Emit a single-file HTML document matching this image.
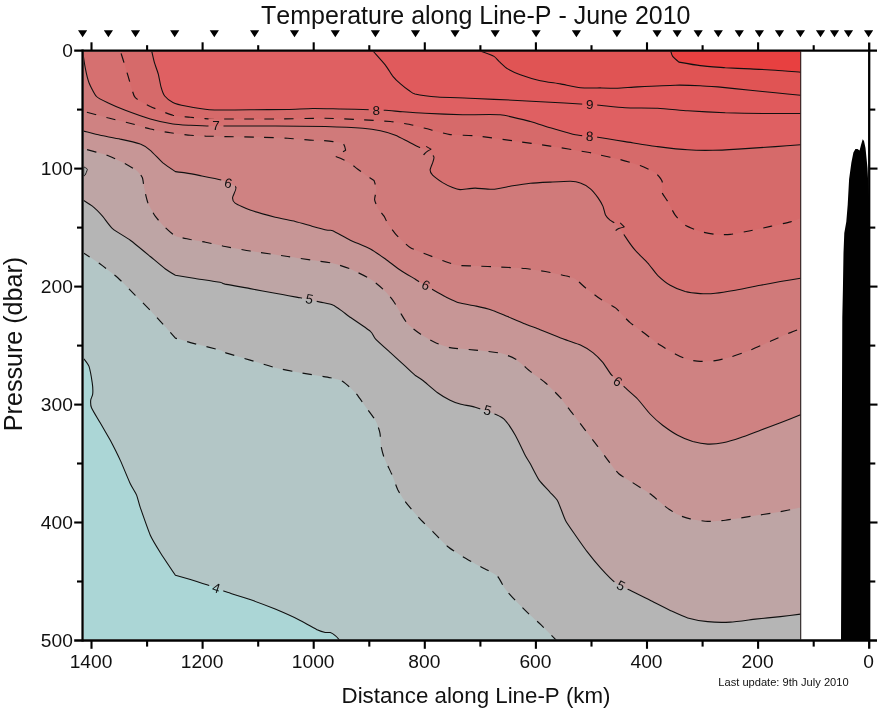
<!DOCTYPE html>
<html><head><meta charset="utf-8"><title>Temperature along Line-P - June 2010</title>
<style>html,body{margin:0;padding:0;background:#fff}body{width:878px;height:708px;overflow:hidden}svg{display:block;will-change:transform;opacity:0.9999}text{font-family:"Liberation Sans",sans-serif;fill:#111;font-kerning:none}</style></head><body>
<svg width="878" height="708" viewBox="0 0 878 708">
<rect width="878" height="708" fill="#fff"/>
<defs><clipPath id="pc"><rect x="83.7" y="51.7" width="717.3" height="587.9"/></clipPath></defs>
<g clip-path="url(#pc)">
<rect x="82.7" y="50.7" width="719.3" height="589.9" fill="#abd6d6"/>
<path d="M83.9 358.9C84.4 359.6 88.1 364 89 366.4C89.8 368.8 91.8 379.9 92.2 382.7C92.6 385.4 92.9 392.2 92.7 394C92.6 395.7 90.8 398.8 90.7 400.2C90.6 401.6 90.5 405.5 91.5 407.7C92.4 410 98.3 419.5 100.2 422.8C102.1 426 108.2 436.6 110.3 440.3C112.3 444.1 118.3 456 120.3 460.4C122.3 464.7 128.7 480.4 130.3 483.8C131.9 487.3 135.6 492.7 136.6 495.1C137.6 497.5 138.9 503.6 140.3 507.6C141.7 511.6 148.3 530.7 150.3 535.2C152.3 539.7 157.9 548.7 160.4 552.7C162.9 556.7 175.4 575.3 175.4 575.3C175.4 575.3 187 578.5 190.4 579.5C193.9 580.6 206.5 584.6 210 585.8C213.4 587 221 590.2 225.1 591.6C229.1 592.9 245.1 597.8 250.1 599.6C255.1 601.3 270.2 607 275.2 609.1C280.2 611.2 296 618.3 300.2 620.4C304.5 622.5 315.3 628.8 317.8 630C320.3 631.2 324 632.2 325.3 632.5C326.5 632.7 329.3 632.2 330.3 632.5C331.3 632.8 334.4 634.9 335.3 635.7C336.3 636.5 339.4 640 339.8 640.5L803 642.6L803 49.7L81.7 49.7L81.7 358.9Z" fill="#b3c6c6"/>
<path d="M83.9 253.2C85.6 254.3 96.8 261.6 100.2 264C103.6 266.5 114.3 274.7 117.8 277.8C121.3 280.9 132.1 292.1 135.3 295.3C138.6 298.6 147.8 307.8 150.3 310.4C152.8 313 157.9 318.5 160.4 321.3C162.9 324.1 175.4 338.1 175.4 338.1C175.4 338.1 186 341.4 190.4 342.6C194.9 343.8 216.5 349.1 220 350.1C223.5 351.1 222 351.6 225.1 352.6C228.1 353.6 245.1 358.6 250.1 360.1C255.1 361.6 270.2 366.4 275.2 367.7C280.2 368.9 294.7 371.7 300.2 372.7C305.7 373.7 326 376.8 330.3 377.7C334.6 378.6 340.3 379.9 342.8 381.4C345.3 382.9 353.1 390.2 355.4 392.7C357.6 395.2 363.4 403.7 365.4 406.5C367.4 409.2 373.9 417.6 375.4 420.3C376.9 422.9 379.4 430.3 379.9 432.8C380.5 435.3 380.5 442.8 380.9 445.3C381.3 447.8 383.1 455 384.2 457.9C385.2 460.7 390.3 470.9 391.7 474.1C393.1 477.4 396.6 487.4 397.9 490.1C399.3 492.8 402.9 498.6 405 501.4C407.1 504.1 416 514.6 418.8 517.7C421.5 520.7 429.7 528.6 432.6 531.4C435.5 534.3 444.6 544 447.6 546.5C450.6 549 459.4 554.5 462.6 556.5C465.9 558.5 477.7 565.1 480.2 566.5C482.7 567.9 485.9 569.3 487.7 570.3C489.5 571.3 496 574.7 497.7 576.5C499.5 578.4 503.5 586.7 505.2 589.1C507 591.4 513 598 515.3 600.3C517.5 602.7 525.2 610.4 527.8 612.9C530.4 615.4 538.7 622.6 541.6 625.4C544.5 628.2 555.1 639 556.6 640.5L803 642.6L803 49.7L81.7 49.7L81.7 253.2Z" fill="#b5b5b5"/>
<path d="M83.2 200.1C84.1 200.7 90.8 204.7 92.7 206.4C94.7 208 100.7 214.1 102.7 216.4C104.7 218.7 110 226.5 112.8 228.9C115.5 231.3 126.5 237.4 130.3 240.2C134.1 243 146.8 253.6 150.3 256.5C153.8 259.4 162.9 267.1 165.4 269C167.9 270.9 175.4 275.3 175.4 275.3C175.4 275.3 191 277.8 195.4 278.5C199.9 279.2 217 281.7 220 282.3C223 282.9 222 283.4 225.1 284.1C228.1 284.7 245.1 287.6 250.1 288.6C255.1 289.5 270.2 292.4 275.2 293.3C280.2 294.3 295.7 297 300.2 297.8C304.7 298.7 317 301.4 320.3 302.1C323.5 302.8 330.5 303.9 332.8 304.9C335.1 305.8 341.2 310.5 342.8 311.6C344.5 312.8 346.3 314.5 349.1 316.5C351.8 318.4 367.8 329.1 370.4 331.3C373 333.6 373.4 336.7 375.4 338.8C377.4 341 387.4 349.9 390.4 352.6C393.4 355.4 403 364.1 405.5 366.4C407.9 368.7 413.3 373.8 415 375.2C416.7 376.5 420.3 378.4 422.6 380.2C424.8 381.9 434.8 390.7 437.6 392.7C440.3 394.7 447.9 399.1 450.1 400.2C452.4 401.4 457.6 403.3 460.1 404C462.6 404.7 471.5 406.2 475.2 407.2C478.8 408.3 493.5 413.5 496.5 414.8C499.5 416.1 503.4 418.2 505.2 420.3C507.1 422.3 513.3 431.8 515.3 435.3C517.3 438.8 523.8 452.5 525.3 455.4C526.8 458.2 528.9 461.3 530.3 463.8C531.7 466.3 537.1 477.2 539.1 480.1C541.1 482.9 548.5 490.5 550.3 492.6C552.2 494.7 556.4 498.6 557.9 501.4C559.4 504.1 563.6 516.8 565.4 520.2C567.1 523.5 573.1 531.9 575.4 535.2C577.7 538.5 585.4 549.5 587.9 552.7C590.4 556 597.7 564.8 600.5 567.8C603.2 570.8 612.5 580.5 615.5 582.8C618.5 585.1 626.6 588.6 630.1 590.3C633.5 592.1 646.1 598.3 650.1 600.3C654.1 602.3 666.4 608.6 670.2 610.4C673.9 612.1 683.9 616.8 687.7 617.9C691.5 619 703.5 621.2 707.7 621.6C712 622.1 725.5 622.4 730.3 622.1C735.1 621.9 750.3 619.7 755.4 619.1C760.4 618.6 775.9 617.1 780.4 616.6C784.9 616.1 798.5 614.4 800.5 614.1L803 49.7L81.7 49.7L81.7 200.1Z" fill="#bea5a5"/>
<path d="M83.9 148.8C86.3 149.5 103.6 154 107.7 155.5C111.9 157 122.4 162.3 125.3 163.8C128.2 165.3 134.9 169.2 136.6 170.5C138.3 171.9 141.6 175.9 142.3 177.6C143.1 179.3 143.5 185.1 144.1 187.6C144.6 190.1 146.7 199.7 147.8 202.6C149 205.5 153.6 213.9 155.4 216.4C157.1 218.9 163.4 225.7 165.4 227.7C167.4 229.6 172.9 234.8 175.4 235.9C177.9 237.1 187.4 238.8 190.4 239.5C193.4 240.1 202.5 241.6 205.5 242.2C208.4 242.8 218 244.8 220 245.2C222 245.6 222 245.9 225.1 246.5C228.1 247 243.8 250 250.1 251C256.4 252 281.4 255.6 287.7 256.5C294 257.4 308.2 259.6 312.8 260.3C317.3 260.9 329 262.4 332.8 263.3C336.6 264.1 346.6 267.4 350.3 269C354.1 270.6 367.1 277 370.4 279C373.6 281 380.7 286.9 382.9 289.1C385.2 291.2 391.2 298 392.9 300.3C394.7 302.7 399 310.5 400.5 312.9C401.9 315.2 405.6 321.7 407.5 323.8C409.5 325.9 417.3 331.9 420 333.8C422.8 335.7 432.1 341.2 435.1 342.6C438.1 344 446.1 346.9 450.1 347.6C454.1 348.4 470.2 349.6 475.2 350.1C480.2 350.7 496.2 352.2 500.2 353.1C504.2 354 512.3 357.1 515.3 358.9C518.3 360.7 527.3 369 530.3 371.4C533.3 373.8 542.3 380.1 545.3 382.7C548.3 385.3 557.6 394.6 560.4 397.7C563.1 400.9 570.4 410.8 572.9 414C575.4 417.3 582.9 427 585.4 430.3C587.9 433.6 595.7 443.6 597.9 446.6C600.2 449.6 605.9 457.6 608 460.4C610.1 463.1 616.3 471.6 618.8 473.8C621.3 476 629.4 480.6 632.6 482.6C635.7 484.6 646.9 491.5 650.1 493.8C653.4 496.2 662.4 504.3 665.1 506.4C667.9 508.5 675.2 513.4 677.7 514.6C680.2 515.9 687.2 518.2 690.2 518.9C693.2 519.6 704.2 521.3 707.7 521.4C711.3 521.5 721 520.7 725.3 520.2C729.5 519.7 745.3 517.2 750.3 516.4C755.4 515.6 770.4 513.5 775.4 512.6C780.4 511.8 797.9 508.1 800.5 507.6L803 49.7L81.7 49.7L81.7 148.8Z" fill="#c79696"/>
<path d="M82.7 130.8C84.4 131.2 96.5 134.5 100.2 135.3C104 136.1 116.3 138.2 120.3 139.1C124.3 139.9 137.3 142.9 140.3 144.1C143.3 145.2 148.1 148.5 150.3 150.3C152.6 152.2 160.4 160.7 162.9 162.9C165.4 165 175.4 171.6 175.4 171.6C175.4 171.6 182.9 172.5 185.4 172.9C187.9 173.3 196.6 174.9 200.2 175.6C203.8 176.3 217.7 178.9 221.3 180.1C224.9 181.2 234.7 185.3 235.8 187.1C237 188.8 232.6 196 232.6 197.6C232.5 199.2 233.3 201.9 235.1 203.1C236.8 204.4 246.1 208.7 250.1 210.1C254.1 211.5 270.7 216 275.2 217.2C279.7 218.3 291.5 220.5 295.2 221.4C299 222.3 309.5 225.5 312.8 226.4C316 227.3 325.8 229.8 327.8 230.2C329.8 230.6 330.5 229.7 332.8 230.7C335.1 231.7 346.6 238.4 350.3 240.2C354.1 242 366.9 247.1 370.4 249C373.9 250.9 382.4 256.9 385.4 259C388.4 261.1 397.5 268.3 400.5 270.3C403.4 272.3 413.2 277.9 415 279C416.8 280.2 416.9 280.4 418.8 281.5C420.7 282.7 431.2 288.8 433.8 290.3C436.5 291.8 442.6 295.3 445.1 296.6C447.6 297.8 455.9 301.9 458.9 302.8C461.9 303.8 471.8 305.1 475.2 305.9C478.6 306.6 489.5 309.3 492.7 310.4C496 311.4 504.5 315.3 507.7 316.6C511 318 522.3 322.9 525.3 324.1C528.3 325.4 534.1 327.3 537.8 328.8C541.6 330.3 558.6 337.2 562.9 338.8C567.1 340.5 577.4 343.7 580.4 345.1C583.4 346.5 590.7 350.9 592.9 352.6C595.2 354.4 601.1 360.4 603 362.6C604.8 364.9 609.5 372.7 611.7 375.2C613.9 377.7 622.5 385.3 625.1 387.7C627.6 390.1 635.1 396.3 637.6 399C640.1 401.6 647.6 411.4 650.1 414C652.6 416.6 659.9 423.2 662.6 425.3C665.4 427.4 674.7 433.7 677.7 435.3C680.7 436.9 689.7 440.7 692.7 441.6C695.7 442.4 704.7 444 707.7 444.1C710.8 444.2 719.5 443.5 722.8 442.8C726 442.2 736.6 439.1 740.3 437.8C744.1 436.6 756.4 431.8 760.4 430.3C764.4 428.8 776.4 424.3 780.4 422.8C784.4 421.2 798.5 415.6 800.5 414.8L803 49.7L81.7 49.7L81.7 130.8Z" fill="#cf8282"/>
<path d="M83.9 111.5C86.3 112.1 102.9 116.5 107.7 117.8C112.6 119 128.5 122.9 132.8 124C137.1 125.2 146.6 128.2 150.3 129C154.1 129.9 166.4 132.2 170.4 132.8C174.4 133.4 186.9 135 190.4 135.3C193.9 135.6 202 135.9 205.5 136.1C208.9 136.2 219.3 136.4 225.1 136.6C230.8 136.7 256.4 137.1 262.6 137.3C268.9 137.5 282.7 138 287.7 138.3C292.7 138.6 309.3 140.1 312.8 140.3C316.2 140.5 320 140.4 322 140.5C324 140.6 330.9 141.3 333 141.6C335.1 141.9 342 142.8 343.3 143.7C344.6 144.6 345.6 150.2 345.6 150.2C345.6 150.2 334.7 156.2 334.7 156.2C334.7 156.2 340.4 158.2 340.4 158.2C340.4 158.2 348.4 162.2 350.1 163.3C351.8 164.4 355.9 167.8 357.5 169C359.1 170.2 364.4 174.1 366 175.2C367.6 176.3 374 180.4 374 180.4C374 180.4 375.5 185 375.7 186C375.9 187 376.4 189.2 376.3 190.6C376.2 192 374.4 197.9 374.6 199.7C374.8 201.5 377.4 207.2 378.4 208.9C379.4 210.6 383.2 214.9 384.2 216.4C385.1 217.9 386.8 222.2 387.9 223.9C389.1 225.7 394.1 232.3 395.4 233.9C396.8 235.6 400.2 238.8 401.7 240.2C403.2 241.6 407.9 246.3 410.5 247.7C413.1 249.2 424.1 253.4 427.6 254.7C431 256.1 442.1 260.5 445.1 261.5C448.1 262.6 454.6 264.8 457.6 265.3C460.6 265.7 470.9 265.8 475.2 266C479.4 266.2 495.2 266.8 500.2 267C505.2 267.3 520.8 268.1 525.3 268.5C529.8 269 541.3 270.8 545.3 271.5C549.3 272.3 562.4 275 565.4 275.8C568.4 276.5 573.4 277.8 575.4 279C577.4 280.2 582.9 285.8 585.4 287.8C587.9 289.8 597.4 297.1 600.5 299.1C603.5 301.1 613.3 306.3 615.5 307.9C617.7 309.5 621.1 313.6 622.6 315C624 316.5 627.8 320.7 630.1 322.6C632.3 324.4 642.1 331.6 645.1 333.8C648.1 336.1 657.1 343.1 660.1 345.1C663.1 347.1 672.4 352.4 675.2 353.9C677.9 355.3 685.2 358.9 687.7 359.6C690.2 360.4 697.5 361.3 700.2 361.4C703 361.5 712.3 361.1 715.3 360.6C718.3 360.2 726.8 358.2 730.3 357.1C733.8 356.1 746.3 351.7 750.3 350.1C754.4 348.5 766.4 343.1 770.4 341.3C774.4 339.6 787.4 333.8 790.4 332.6C793.4 331.3 799.5 329.2 800.5 328.8L803 49.7L81.7 49.7L81.7 111.5Z" fill="#d07a7a"/>
<path d="M82.7 50.9C82.9 52.5 84.6 64.5 85.2 67.7C85.8 70.8 87.8 79.8 89 82.7C90.1 85.6 94.6 94.5 96.5 96.5C98.3 98.5 104.9 101.4 107.7 102.7C110.6 104.1 121 108.6 125.3 110.3C129.5 111.9 145.6 117.6 150.3 119C155.1 120.4 168.9 123.4 172.9 124C176.9 124.7 186.7 125.1 190.4 125.3C194.2 125.5 207 126 210.5 126C213.9 126.1 218.6 126 225.1 126C231.5 126 265.1 126 275.2 126C285.2 126.1 316.5 126.3 325.3 126.5C334.1 126.8 357.4 127.9 362.9 128.3C368.4 128.7 377.2 130.1 380.4 130.8C383.7 131.5 392.7 134.2 395.4 135.3C398.2 136.4 406 140.6 408 141.6C409.9 142.6 413.3 144.5 415 145.3C416.7 146.2 423.2 148.7 425.1 149.8C426.9 151 433.1 155.3 433.8 156.6C434.6 157.9 432.9 161.5 432.6 162.9C432.2 164.2 430.1 168.8 430.1 170C430.1 171.3 431.3 173.8 432.6 175.1C433.8 176.3 440.6 181.3 442.6 182.6C444.6 183.8 450.9 186.9 452.6 187.6C454.4 188.3 457.9 189.5 460.1 189.6C462.4 189.6 471.9 188.1 475.2 188.1C478.4 188.1 489 189.6 492.7 189.3C496.5 189.1 509 186.4 512.8 185.8C516.5 185.2 526.5 183.7 530.3 183.3C534.1 182.9 546.3 182.3 550.3 182.1C554.4 181.9 567.4 181.2 570.4 181.3C573.4 181.4 578.4 182.3 580.4 183.1C582.4 183.8 588.7 187.4 590.4 188.8C592.2 190.3 596.7 195.9 597.9 197.6C599.2 199.4 602.2 204.6 603 206.4C603.7 208.1 604.8 213.8 605.5 215.1C606.2 216.5 608.8 219.2 610 220.2C611.2 221.2 616 223.5 617.5 225.2C619 226.8 623.3 233.9 625.1 236.4C626.8 239 632.8 247.6 635.1 250.2C637.3 252.9 645.4 260.3 647.6 262.8C649.9 265.3 655.4 273 657.6 275.3C659.9 277.5 667.4 283.7 670.2 285.3C672.9 286.9 682.2 290.7 685.2 291.6C688.2 292.4 697.2 293.4 700.2 293.6C703.2 293.8 711.8 293.7 715.3 293.3C718.8 293 730.8 291.1 735.3 290.3C739.8 289.5 755.9 286.2 760.4 285.3C764.9 284.4 776.4 282.3 780.4 281.5C784.4 280.8 798.5 278.6 800.5 278.3L803 49.7L81.7 49.7L81.7 50.9Z" fill="#d67070"/>
<path d="M120.3 50.9C120.6 52 123.3 60.2 124 62.6C124.8 65.1 127 72.7 127.8 75.2C128.5 77.7 130.8 85.4 131.5 87.7C132.3 90 133.4 95.8 135.3 97.7C137.2 99.6 146.6 104.7 150.3 106.5C154.1 108.2 168.9 114.2 172.9 115.3C176.9 116.3 185.7 116.8 190.4 117.3C195.1 117.7 216.5 119.6 220 119.8C223.5 119.9 219.5 119.1 225.1 119C230.6 118.9 265.1 119.1 275.2 119C285.2 118.9 316.5 118.2 325.3 118.3C334.1 118.3 356.4 119.4 362.9 119.8C369.4 120.1 385.8 121.1 390.4 121.5C395 122 405.5 123.6 409 124.3C412.5 125 420.9 127.3 425.1 128.3C429.2 129.3 445.1 133.8 450.1 134.6C455.1 135.3 468.9 135.2 475.2 135.8C481.4 136.4 505.2 139.8 512.8 140.8C520.3 141.8 542.8 144.9 550.3 146.1C557.9 147.2 583 151.5 587.9 152.3C592.9 153.2 596.8 154.3 600 155C603.2 155.7 616 158.5 620 159.5C624.1 160.6 636.6 164.2 640.1 165.5C643.6 166.8 652.9 171 655.1 172.6C657.3 174.1 661.4 179.3 662.1 181.3C662.8 183.3 661.6 190.6 662.1 192.6C662.7 194.6 666.4 199.1 667.7 201.4C669 203.6 673.4 212.8 675.2 215.1C676.9 217.5 682.7 223.5 685.2 225.2C687.7 226.8 697.2 230.5 700.2 231.4C703.2 232.4 712.3 234.1 715.3 234.4C718.3 234.7 726.8 234.8 730.3 234.4C733.8 234.1 746.3 231.5 750.3 230.7C754.4 229.9 766.4 227.3 770.4 226.4C774.4 225.5 787.4 222.7 790.4 221.9C793.4 221.1 799.5 218.5 800.5 218.2L803 49.7L81.7 49.7Z" fill="#d66a6a"/>
<path d="M151.7 51C152 52.2 153.9 60.9 154.6 63.2C155.3 65.5 157.7 71.7 158.3 74.1C158.9 76.5 160.4 84.7 161 86.9C161.6 89.1 163.5 94.5 164.7 96C165.9 97.5 170.8 101.4 172.9 102.4C175 103.4 182 105.3 185.6 106C189.2 106.7 202.8 109.3 209.3 109.7C215.8 110.1 242.3 109.8 250.1 109.7C258 109.7 281.4 109.6 287.7 109.5C294 109.4 307.5 108.5 312.8 108.5C318 108.4 334.6 108.9 340.3 109C346.1 109.1 365.9 109.6 370.4 109.7C374.9 109.9 382.2 110.1 385.4 110.3C388.7 110.5 398.8 111.5 402.7 111.8C406.7 112.1 419.1 113 425.1 113.3C431 113.6 455.1 114.6 462.6 114.8C470.2 114.9 493.5 114.1 500.2 114.8C507 115.4 525.3 120.2 530.3 121.5C535.3 122.8 545.8 126.5 550.3 127.8C554.9 129.1 570.6 133.9 575.4 134.8C580.2 135.8 593 136.6 597.9 137.3C602.9 138 619.1 140.6 625.1 141.6C631 142.5 651.4 145.8 657.6 146.6C663.9 147.4 682.2 149.5 687.7 149.8C693.2 150.2 707.7 150.4 712.8 150.3C717.8 150.3 731.5 149.5 737.8 149.1C744.1 148.7 769.1 147 775.4 146.6C781.7 146.2 797.9 145 800.5 144.8L803 49.7L81.7 49.7Z" fill="#df6062"/>
<path d="M372.9 50.9C374.1 52.3 383.4 62.6 385.4 65.1C387.4 67.7 391.4 74.5 392.9 76.4C394.4 78.3 398.8 82.5 400.5 83.9C402.1 85.3 407.5 89.5 409 90.5C410.5 91.5 412.2 93.3 415 94C417.9 94.6 431.6 96.5 437.6 97C443.6 97.4 467.7 98.1 475.2 98.5C482.7 98.8 505.2 99.9 512.8 100.2C520.3 100.6 543.6 101.9 550.3 102.2C557.1 102.6 575.5 103.7 580.4 104C585.3 104.3 594.7 104.9 599.2 105.2C603.7 105.6 619.2 107.4 625.1 107.7C630.9 108 651.4 107.9 657.6 108.2C663.9 108.5 680.9 110.3 687.7 110.8C694.5 111.2 717.8 112.5 725.3 112.8C732.8 113 755.4 113.4 762.9 113.5C770.4 113.6 796.7 113.5 800.5 113.5L803 49.7L81.7 49.7Z" fill="#e05a5c"/>
<path d="M480.2 50.9C481.6 51.4 492.1 55.3 494 56.4C495.8 57.4 497.6 60.1 499 61.4C500.4 62.6 505.6 67.6 507.7 68.9C509.9 70.2 517 73.5 520.3 74.7C523.5 75.8 536.3 79.8 540.3 80.7C544.3 81.6 556.4 83.2 560.4 83.9C564.4 84.6 576.4 87.3 580.4 87.7C584.4 88.1 596.5 87.9 600.2 87.9C603.9 88 613.8 88.3 617.5 88.2C621.3 88.1 631.8 87.2 637.6 86.9C643.3 86.6 668.9 85.3 675.2 85.2C681.4 85.1 696 85.5 700.2 85.7C704.5 85.9 717.8 86.9 717.8 86.9C717.8 86.9 744.6 89.6 750.3 90.2C756.1 90.8 770.4 92.2 775.4 92.7C780.4 93.2 797.9 95 800.5 95.2L803 49.7L81.7 49.7Z" fill="#e05454"/>
<path d="M670.7 50.9C670.9 51.4 671.8 55.3 672.7 56.4C673.5 57.5 678.9 62.1 678.9 62.1C678.9 62.1 695.6 65.1 700.2 65.6C704.9 66.2 720.3 67.3 725.3 67.7C730.3 68 745.3 68.7 750.3 68.9C755.4 69.2 770.4 69.8 775.4 70.2C780.4 70.5 797.9 72 800.5 72.2L803 49.7L81.7 49.7Z" fill="#e84040"/>
<path d="M83.7 166.9C84.1 167.1 87.2 168.4 87.3 169.2C87.4 170 85.5 174.4 85.1 175.1C84.7 175.8 83.8 175.9 83.7 176Z" fill="#b5b5b5" stroke="#111" stroke-width="0.9"/>
</g>
<defs><mask id="lm" maskUnits="userSpaceOnUse" x="0" y="0" width="878" height="708"><rect width="878" height="708" fill="#fff"/>
<rect x="208.8" y="581" width="15" height="14" fill="#000" transform="rotate(18 216.3 588)"/>
<rect x="302" y="292" width="15" height="14" fill="#000" transform="rotate(12 309.5 299)"/>
<rect x="480.2" y="403.3" width="15" height="14" fill="#000" transform="rotate(15 487.7 410.3)"/>
<rect x="613.5" y="578.5" width="15" height="14" fill="#000" transform="rotate(27 621 585.5)"/>
<rect x="220.8" y="176" width="15" height="14" fill="#000" transform="rotate(14 228.3 183)"/>
<rect x="418.3" y="278" width="15" height="14" fill="#000" transform="rotate(25 425.8 285)"/>
<rect x="610.3" y="374.5" width="15" height="14" fill="#000" transform="rotate(36 617.8 381.5)"/>
<rect x="208.5" y="118.3" width="15" height="14" fill="#000" transform="rotate(0 216 125.3)"/>
<rect x="419.1" y="144.3" width="15" height="14" fill="#000" transform="rotate(31 426.6 151.3)"/>
<rect x="612.1" y="220.9" width="15" height="14" fill="#000" transform="rotate(45 619.6 227.9)"/>
<rect x="368.7" y="102.8" width="15" height="14" fill="#000" transform="rotate(0 376.2 109.8)"/>
<rect x="582.2" y="129.1" width="15" height="14" fill="#000" transform="rotate(2 589.7 136.1)"/>
<rect x="582.2" y="97" width="15" height="14" fill="#000" transform="rotate(0 589.7 104)"/>
</mask></defs>
<g clip-path="url(#pc)"><g mask="url(#lm)" fill="none" stroke="#101010" stroke-linejoin="round">
<path d="M83.9 358.9C84.4 359.6 88.1 364 89 366.4C89.8 368.8 91.8 379.9 92.2 382.7C92.6 385.4 92.9 392.2 92.7 394C92.6 395.7 90.8 398.8 90.7 400.2C90.6 401.6 90.5 405.5 91.5 407.7C92.4 410 98.3 419.5 100.2 422.8C102.1 426 108.2 436.6 110.3 440.3C112.3 444.1 118.3 456 120.3 460.4C122.3 464.7 128.7 480.4 130.3 483.8C131.9 487.3 135.6 492.7 136.6 495.1C137.6 497.5 138.9 503.6 140.3 507.6C141.7 511.6 148.3 530.7 150.3 535.2C152.3 539.7 157.9 548.7 160.4 552.7C162.9 556.7 175.4 575.3 175.4 575.3C175.4 575.3 187 578.5 190.4 579.5C193.9 580.6 206.5 584.6 210 585.8C213.4 587 221 590.2 225.1 591.6C229.1 592.9 245.1 597.8 250.1 599.6C255.1 601.3 270.2 607 275.2 609.1C280.2 611.2 296 618.3 300.2 620.4C304.5 622.5 315.3 628.8 317.8 630C320.3 631.2 324 632.2 325.3 632.5C326.5 632.7 329.3 632.2 330.3 632.5C331.3 632.8 334.4 634.9 335.3 635.7C336.3 636.5 339.4 640 339.8 640.5" stroke-width="1.08"/>
<path d="M83.9 253.2C85.6 254.3 96.8 261.6 100.2 264C103.6 266.5 114.3 274.7 117.8 277.8C121.3 280.9 132.1 292.1 135.3 295.3C138.6 298.6 147.8 307.8 150.3 310.4C152.8 313 157.9 318.5 160.4 321.3C162.9 324.1 175.4 338.1 175.4 338.1C175.4 338.1 186 341.4 190.4 342.6C194.9 343.8 216.5 349.1 220 350.1C223.5 351.1 222 351.6 225.1 352.6C228.1 353.6 245.1 358.6 250.1 360.1C255.1 361.6 270.2 366.4 275.2 367.7C280.2 368.9 294.7 371.7 300.2 372.7C305.7 373.7 326 376.8 330.3 377.7C334.6 378.6 340.3 379.9 342.8 381.4C345.3 382.9 353.1 390.2 355.4 392.7C357.6 395.2 363.4 403.7 365.4 406.5C367.4 409.2 373.9 417.6 375.4 420.3C376.9 422.9 379.4 430.3 379.9 432.8C380.5 435.3 380.5 442.8 380.9 445.3C381.3 447.8 383.1 455 384.2 457.9C385.2 460.7 390.3 470.9 391.7 474.1C393.1 477.4 396.6 487.4 397.9 490.1C399.3 492.8 402.9 498.6 405 501.4C407.1 504.1 416 514.6 418.8 517.7C421.5 520.7 429.7 528.6 432.6 531.4C435.5 534.3 444.6 544 447.6 546.5C450.6 549 459.4 554.5 462.6 556.5C465.9 558.5 477.7 565.1 480.2 566.5C482.7 567.9 485.9 569.3 487.7 570.3C489.5 571.3 496 574.7 497.7 576.5C499.5 578.4 503.5 586.7 505.2 589.1C507 591.4 513 598 515.3 600.3C517.5 602.7 525.2 610.4 527.8 612.9C530.4 615.4 538.7 622.6 541.6 625.4C544.5 628.2 555.1 639 556.6 640.5" stroke-width="1.15" stroke-dasharray="9.5 10.5" stroke-dashoffset="2.5"/>
<path d="M83.2 200.1C84.1 200.7 90.8 204.7 92.7 206.4C94.7 208 100.7 214.1 102.7 216.4C104.7 218.7 110 226.5 112.8 228.9C115.5 231.3 126.5 237.4 130.3 240.2C134.1 243 146.8 253.6 150.3 256.5C153.8 259.4 162.9 267.1 165.4 269C167.9 270.9 175.4 275.3 175.4 275.3C175.4 275.3 191 277.8 195.4 278.5C199.9 279.2 217 281.7 220 282.3C223 282.9 222 283.4 225.1 284.1C228.1 284.7 245.1 287.6 250.1 288.6C255.1 289.5 270.2 292.4 275.2 293.3C280.2 294.3 295.7 297 300.2 297.8C304.7 298.7 317 301.4 320.3 302.1C323.5 302.8 330.5 303.9 332.8 304.9C335.1 305.8 341.2 310.5 342.8 311.6C344.5 312.8 346.3 314.5 349.1 316.5C351.8 318.4 367.8 329.1 370.4 331.3C373 333.6 373.4 336.7 375.4 338.8C377.4 341 387.4 349.9 390.4 352.6C393.4 355.4 403 364.1 405.5 366.4C407.9 368.7 413.3 373.8 415 375.2C416.7 376.5 420.3 378.4 422.6 380.2C424.8 381.9 434.8 390.7 437.6 392.7C440.3 394.7 447.9 399.1 450.1 400.2C452.4 401.4 457.6 403.3 460.1 404C462.6 404.7 471.5 406.2 475.2 407.2C478.8 408.3 493.5 413.5 496.5 414.8C499.5 416.1 503.4 418.2 505.2 420.3C507.1 422.3 513.3 431.8 515.3 435.3C517.3 438.8 523.8 452.5 525.3 455.4C526.8 458.2 528.9 461.3 530.3 463.8C531.7 466.3 537.1 477.2 539.1 480.1C541.1 482.9 548.5 490.5 550.3 492.6C552.2 494.7 556.4 498.6 557.9 501.4C559.4 504.1 563.6 516.8 565.4 520.2C567.1 523.5 573.1 531.9 575.4 535.2C577.7 538.5 585.4 549.5 587.9 552.7C590.4 556 597.7 564.8 600.5 567.8C603.2 570.8 612.5 580.5 615.5 582.8C618.5 585.1 626.6 588.6 630.1 590.3C633.5 592.1 646.1 598.3 650.1 600.3C654.1 602.3 666.4 608.6 670.2 610.4C673.9 612.1 683.9 616.8 687.7 617.9C691.5 619 703.5 621.2 707.7 621.6C712 622.1 725.5 622.4 730.3 622.1C735.1 621.9 750.3 619.7 755.4 619.1C760.4 618.6 775.9 617.1 780.4 616.6C784.9 616.1 798.5 614.4 800.5 614.1" stroke-width="1.08"/>
<path d="M83.9 148.8C86.3 149.5 103.6 154 107.7 155.5C111.9 157 122.4 162.3 125.3 163.8C128.2 165.3 134.9 169.2 136.6 170.5C138.3 171.9 141.6 175.9 142.3 177.6C143.1 179.3 143.5 185.1 144.1 187.6C144.6 190.1 146.7 199.7 147.8 202.6C149 205.5 153.6 213.9 155.4 216.4C157.1 218.9 163.4 225.7 165.4 227.7C167.4 229.6 172.9 234.8 175.4 235.9C177.9 237.1 187.4 238.8 190.4 239.5C193.4 240.1 202.5 241.6 205.5 242.2C208.4 242.8 218 244.8 220 245.2C222 245.6 222 245.9 225.1 246.5C228.1 247 243.8 250 250.1 251C256.4 252 281.4 255.6 287.7 256.5C294 257.4 308.2 259.6 312.8 260.3C317.3 260.9 329 262.4 332.8 263.3C336.6 264.1 346.6 267.4 350.3 269C354.1 270.6 367.1 277 370.4 279C373.6 281 380.7 286.9 382.9 289.1C385.2 291.2 391.2 298 392.9 300.3C394.7 302.7 399 310.5 400.5 312.9C401.9 315.2 405.6 321.7 407.5 323.8C409.5 325.9 417.3 331.9 420 333.8C422.8 335.7 432.1 341.2 435.1 342.6C438.1 344 446.1 346.9 450.1 347.6C454.1 348.4 470.2 349.6 475.2 350.1C480.2 350.7 496.2 352.2 500.2 353.1C504.2 354 512.3 357.1 515.3 358.9C518.3 360.7 527.3 369 530.3 371.4C533.3 373.8 542.3 380.1 545.3 382.7C548.3 385.3 557.6 394.6 560.4 397.7C563.1 400.9 570.4 410.8 572.9 414C575.4 417.3 582.9 427 585.4 430.3C587.9 433.6 595.7 443.6 597.9 446.6C600.2 449.6 605.9 457.6 608 460.4C610.1 463.1 616.3 471.6 618.8 473.8C621.3 476 629.4 480.6 632.6 482.6C635.7 484.6 646.9 491.5 650.1 493.8C653.4 496.2 662.4 504.3 665.1 506.4C667.9 508.5 675.2 513.4 677.7 514.6C680.2 515.9 687.2 518.2 690.2 518.9C693.2 519.6 704.2 521.3 707.7 521.4C711.3 521.5 721 520.7 725.3 520.2C729.5 519.7 745.3 517.2 750.3 516.4C755.4 515.6 770.4 513.5 775.4 512.6C780.4 511.8 797.9 508.1 800.5 507.6" stroke-width="1.15" stroke-dasharray="9.5 10.5" stroke-dashoffset="16.6"/>
<path d="M82.7 130.8C84.4 131.2 96.5 134.5 100.2 135.3C104 136.1 116.3 138.2 120.3 139.1C124.3 139.9 137.3 142.9 140.3 144.1C143.3 145.2 148.1 148.5 150.3 150.3C152.6 152.2 160.4 160.7 162.9 162.9C165.4 165 175.4 171.6 175.4 171.6C175.4 171.6 182.9 172.5 185.4 172.9C187.9 173.3 196.6 174.9 200.2 175.6C203.8 176.3 217.7 178.9 221.3 180.1C224.9 181.2 234.7 185.3 235.8 187.1C237 188.8 232.6 196 232.6 197.6C232.5 199.2 233.3 201.9 235.1 203.1C236.8 204.4 246.1 208.7 250.1 210.1C254.1 211.5 270.7 216 275.2 217.2C279.7 218.3 291.5 220.5 295.2 221.4C299 222.3 309.5 225.5 312.8 226.4C316 227.3 325.8 229.8 327.8 230.2C329.8 230.6 330.5 229.7 332.8 230.7C335.1 231.7 346.6 238.4 350.3 240.2C354.1 242 366.9 247.1 370.4 249C373.9 250.9 382.4 256.9 385.4 259C388.4 261.1 397.5 268.3 400.5 270.3C403.4 272.3 413.2 277.9 415 279C416.8 280.2 416.9 280.4 418.8 281.5C420.7 282.7 431.2 288.8 433.8 290.3C436.5 291.8 442.6 295.3 445.1 296.6C447.6 297.8 455.9 301.9 458.9 302.8C461.9 303.8 471.8 305.1 475.2 305.9C478.6 306.6 489.5 309.3 492.7 310.4C496 311.4 504.5 315.3 507.7 316.6C511 318 522.3 322.9 525.3 324.1C528.3 325.4 534.1 327.3 537.8 328.8C541.6 330.3 558.6 337.2 562.9 338.8C567.1 340.5 577.4 343.7 580.4 345.1C583.4 346.5 590.7 350.9 592.9 352.6C595.2 354.4 601.1 360.4 603 362.6C604.8 364.9 609.5 372.7 611.7 375.2C613.9 377.7 622.5 385.3 625.1 387.7C627.6 390.1 635.1 396.3 637.6 399C640.1 401.6 647.6 411.4 650.1 414C652.6 416.6 659.9 423.2 662.6 425.3C665.4 427.4 674.7 433.7 677.7 435.3C680.7 436.9 689.7 440.7 692.7 441.6C695.7 442.4 704.7 444 707.7 444.1C710.8 444.2 719.5 443.5 722.8 442.8C726 442.2 736.6 439.1 740.3 437.8C744.1 436.6 756.4 431.8 760.4 430.3C764.4 428.8 776.4 424.3 780.4 422.8C784.4 421.2 798.5 415.6 800.5 414.8" stroke-width="1.08"/>
<path d="M83.9 111.5C86.3 112.1 102.9 116.5 107.7 117.8C112.6 119 128.5 122.9 132.8 124C137.1 125.2 146.6 128.2 150.3 129C154.1 129.9 166.4 132.2 170.4 132.8C174.4 133.4 186.9 135 190.4 135.3C193.9 135.6 202 135.9 205.5 136.1C208.9 136.2 219.3 136.4 225.1 136.6C230.8 136.7 256.4 137.1 262.6 137.3C268.9 137.5 282.7 138 287.7 138.3C292.7 138.6 309.3 140.1 312.8 140.3C316.2 140.5 320 140.4 322 140.5C324 140.6 330.9 141.3 333 141.6C335.1 141.9 342 142.8 343.3 143.7C344.6 144.6 345.6 150.2 345.6 150.2C345.6 150.2 334.7 156.2 334.7 156.2C334.7 156.2 340.4 158.2 340.4 158.2C340.4 158.2 348.4 162.2 350.1 163.3C351.8 164.4 355.9 167.8 357.5 169C359.1 170.2 364.4 174.1 366 175.2C367.6 176.3 374 180.4 374 180.4C374 180.4 375.5 185 375.7 186C375.9 187 376.4 189.2 376.3 190.6C376.2 192 374.4 197.9 374.6 199.7C374.8 201.5 377.4 207.2 378.4 208.9C379.4 210.6 383.2 214.9 384.2 216.4C385.1 217.9 386.8 222.2 387.9 223.9C389.1 225.7 394.1 232.3 395.4 233.9C396.8 235.6 400.2 238.8 401.7 240.2C403.2 241.6 407.9 246.3 410.5 247.7C413.1 249.2 424.1 253.4 427.6 254.7C431 256.1 442.1 260.5 445.1 261.5C448.1 262.6 454.6 264.8 457.6 265.3C460.6 265.7 470.9 265.8 475.2 266C479.4 266.2 495.2 266.8 500.2 267C505.2 267.3 520.8 268.1 525.3 268.5C529.8 269 541.3 270.8 545.3 271.5C549.3 272.3 562.4 275 565.4 275.8C568.4 276.5 573.4 277.8 575.4 279C577.4 280.2 582.9 285.8 585.4 287.8C587.9 289.8 597.4 297.1 600.5 299.1C603.5 301.1 613.3 306.3 615.5 307.9C617.7 309.5 621.1 313.6 622.6 315C624 316.5 627.8 320.7 630.1 322.6C632.3 324.4 642.1 331.6 645.1 333.8C648.1 336.1 657.1 343.1 660.1 345.1C663.1 347.1 672.4 352.4 675.2 353.9C677.9 355.3 685.2 358.9 687.7 359.6C690.2 360.4 697.5 361.3 700.2 361.4C703 361.5 712.3 361.1 715.3 360.6C718.3 360.2 726.8 358.2 730.3 357.1C733.8 356.1 746.3 351.7 750.3 350.1C754.4 348.5 766.4 343.1 770.4 341.3C774.4 339.6 787.4 333.8 790.4 332.6C793.4 331.3 799.5 329.2 800.5 328.8" stroke-width="1.15" stroke-dasharray="9.5 10.5" stroke-dashoffset="16.8"/>
<path d="M82.7 50.9C82.9 52.5 84.6 64.5 85.2 67.7C85.8 70.8 87.8 79.8 89 82.7C90.1 85.6 94.6 94.5 96.5 96.5C98.3 98.5 104.9 101.4 107.7 102.7C110.6 104.1 121 108.6 125.3 110.3C129.5 111.9 145.6 117.6 150.3 119C155.1 120.4 168.9 123.4 172.9 124C176.9 124.7 186.7 125.1 190.4 125.3C194.2 125.5 207 126 210.5 126C213.9 126.1 218.6 126 225.1 126C231.5 126 265.1 126 275.2 126C285.2 126.1 316.5 126.3 325.3 126.5C334.1 126.8 357.4 127.9 362.9 128.3C368.4 128.7 377.2 130.1 380.4 130.8C383.7 131.5 392.7 134.2 395.4 135.3C398.2 136.4 406 140.6 408 141.6C409.9 142.6 413.3 144.5 415 145.3C416.7 146.2 423.2 148.7 425.1 149.8C426.9 151 433.1 155.3 433.8 156.6C434.6 157.9 432.9 161.5 432.6 162.9C432.2 164.2 430.1 168.8 430.1 170C430.1 171.3 431.3 173.8 432.6 175.1C433.8 176.3 440.6 181.3 442.6 182.6C444.6 183.8 450.9 186.9 452.6 187.6C454.4 188.3 457.9 189.5 460.1 189.6C462.4 189.6 471.9 188.1 475.2 188.1C478.4 188.1 489 189.6 492.7 189.3C496.5 189.1 509 186.4 512.8 185.8C516.5 185.2 526.5 183.7 530.3 183.3C534.1 182.9 546.3 182.3 550.3 182.1C554.4 181.9 567.4 181.2 570.4 181.3C573.4 181.4 578.4 182.3 580.4 183.1C582.4 183.8 588.7 187.4 590.4 188.8C592.2 190.3 596.7 195.9 597.9 197.6C599.2 199.4 602.2 204.6 603 206.4C603.7 208.1 604.8 213.8 605.5 215.1C606.2 216.5 608.8 219.2 610 220.2C611.2 221.2 616 223.5 617.5 225.2C619 226.8 623.3 233.9 625.1 236.4C626.8 239 632.8 247.6 635.1 250.2C637.3 252.9 645.4 260.3 647.6 262.8C649.9 265.3 655.4 273 657.6 275.3C659.9 277.5 667.4 283.7 670.2 285.3C672.9 286.9 682.2 290.7 685.2 291.6C688.2 292.4 697.2 293.4 700.2 293.6C703.2 293.8 711.8 293.7 715.3 293.3C718.8 293 730.8 291.1 735.3 290.3C739.8 289.5 755.9 286.2 760.4 285.3C764.9 284.4 776.4 282.3 780.4 281.5C784.4 280.8 798.5 278.6 800.5 278.3" stroke-width="1.08"/>
<path d="M120.3 50.9C120.6 52 123.3 60.2 124 62.6C124.8 65.1 127 72.7 127.8 75.2C128.5 77.7 130.8 85.4 131.5 87.7C132.3 90 133.4 95.8 135.3 97.7C137.2 99.6 146.6 104.7 150.3 106.5C154.1 108.2 168.9 114.2 172.9 115.3C176.9 116.3 185.7 116.8 190.4 117.3C195.1 117.7 216.5 119.6 220 119.8C223.5 119.9 219.5 119.1 225.1 119C230.6 118.9 265.1 119.1 275.2 119C285.2 118.9 316.5 118.2 325.3 118.3C334.1 118.3 356.4 119.4 362.9 119.8C369.4 120.1 385.8 121.1 390.4 121.5C395 122 405.5 123.6 409 124.3C412.5 125 420.9 127.3 425.1 128.3C429.2 129.3 445.1 133.8 450.1 134.6C455.1 135.3 468.9 135.2 475.2 135.8C481.4 136.4 505.2 139.8 512.8 140.8C520.3 141.8 542.8 144.9 550.3 146.1C557.9 147.2 583 151.5 587.9 152.3C592.9 153.2 596.8 154.3 600 155C603.2 155.7 616 158.5 620 159.5C624.1 160.6 636.6 164.2 640.1 165.5C643.6 166.8 652.9 171 655.1 172.6C657.3 174.1 661.4 179.3 662.1 181.3C662.8 183.3 661.6 190.6 662.1 192.6C662.7 194.6 666.4 199.1 667.7 201.4C669 203.6 673.4 212.8 675.2 215.1C676.9 217.5 682.7 223.5 685.2 225.2C687.7 226.8 697.2 230.5 700.2 231.4C703.2 232.4 712.3 234.1 715.3 234.4C718.3 234.7 726.8 234.8 730.3 234.4C733.8 234.1 746.3 231.5 750.3 230.7C754.4 229.9 766.4 227.3 770.4 226.4C774.4 225.5 787.4 222.7 790.4 221.9C793.4 221.1 799.5 218.5 800.5 218.2" stroke-width="1.15" stroke-dasharray="9.5 10.5" stroke-dashoffset="17.3"/>
<path d="M151.7 51C152 52.2 153.9 60.9 154.6 63.2C155.3 65.5 157.7 71.7 158.3 74.1C158.9 76.5 160.4 84.7 161 86.9C161.6 89.1 163.5 94.5 164.7 96C165.9 97.5 170.8 101.4 172.9 102.4C175 103.4 182 105.3 185.6 106C189.2 106.7 202.8 109.3 209.3 109.7C215.8 110.1 242.3 109.8 250.1 109.7C258 109.7 281.4 109.6 287.7 109.5C294 109.4 307.5 108.5 312.8 108.5C318 108.4 334.6 108.9 340.3 109C346.1 109.1 365.9 109.6 370.4 109.7C374.9 109.9 382.2 110.1 385.4 110.3C388.7 110.5 398.8 111.5 402.7 111.8C406.7 112.1 419.1 113 425.1 113.3C431 113.6 455.1 114.6 462.6 114.8C470.2 114.9 493.5 114.1 500.2 114.8C507 115.4 525.3 120.2 530.3 121.5C535.3 122.8 545.8 126.5 550.3 127.8C554.9 129.1 570.6 133.9 575.4 134.8C580.2 135.8 593 136.6 597.9 137.3C602.9 138 619.1 140.6 625.1 141.6C631 142.5 651.4 145.8 657.6 146.6C663.9 147.4 682.2 149.5 687.7 149.8C693.2 150.2 707.7 150.4 712.8 150.3C717.8 150.3 731.5 149.5 737.8 149.1C744.1 148.7 769.1 147 775.4 146.6C781.7 146.2 797.9 145 800.5 144.8" stroke-width="1.08"/>
<path d="M372.9 50.9C374.1 52.3 383.4 62.6 385.4 65.1C387.4 67.7 391.4 74.5 392.9 76.4C394.4 78.3 398.8 82.5 400.5 83.9C402.1 85.3 407.5 89.5 409 90.5C410.5 91.5 412.2 93.3 415 94C417.9 94.6 431.6 96.5 437.6 97C443.6 97.4 467.7 98.1 475.2 98.5C482.7 98.8 505.2 99.9 512.8 100.2C520.3 100.6 543.6 101.9 550.3 102.2C557.1 102.6 575.5 103.7 580.4 104C585.3 104.3 594.7 104.9 599.2 105.2C603.7 105.6 619.2 107.4 625.1 107.7C630.9 108 651.4 107.9 657.6 108.2C663.9 108.5 680.9 110.3 687.7 110.8C694.5 111.2 717.8 112.5 725.3 112.8C732.8 113 755.4 113.4 762.9 113.5C770.4 113.6 796.7 113.5 800.5 113.5" stroke-width="1.08"/>
<path d="M480.2 50.9C481.6 51.4 492.1 55.3 494 56.4C495.8 57.4 497.6 60.1 499 61.4C500.4 62.6 505.6 67.6 507.7 68.9C509.9 70.2 517 73.5 520.3 74.7C523.5 75.8 536.3 79.8 540.3 80.7C544.3 81.6 556.4 83.2 560.4 83.9C564.4 84.6 576.4 87.3 580.4 87.7C584.4 88.1 596.5 87.9 600.2 87.9C603.9 88 613.8 88.3 617.5 88.2C621.3 88.1 631.8 87.2 637.6 86.9C643.3 86.6 668.9 85.3 675.2 85.2C681.4 85.1 696 85.5 700.2 85.7C704.5 85.9 717.8 86.9 717.8 86.9C717.8 86.9 744.6 89.6 750.3 90.2C756.1 90.8 770.4 92.2 775.4 92.7C780.4 93.2 797.9 95 800.5 95.2" stroke-width="1.08"/>
<path d="M670.7 50.9C670.9 51.4 671.8 55.3 672.7 56.4C673.5 57.5 678.9 62.1 678.9 62.1C678.9 62.1 695.6 65.1 700.2 65.6C704.9 66.2 720.3 67.3 725.3 67.7C730.3 68 745.3 68.7 750.3 68.9C755.4 69.2 770.4 69.8 775.4 70.2C780.4 70.5 797.9 72 800.5 72.2" stroke-width="1.08"/>
</g></g>
<line x1="800.7" y1="51.7" x2="800.7" y2="639.6" stroke="#2a2222" stroke-width="1.1"/>
<text x="216.3" y="592.7" font-size="13.5" text-anchor="middle" transform="rotate(18 216.3 588)">4</text>
<text x="309.5" y="303.7" font-size="13.5" text-anchor="middle" transform="rotate(12 309.5 299)">5</text>
<text x="487.7" y="415" font-size="13.5" text-anchor="middle" transform="rotate(15 487.7 410.3)">5</text>
<text x="621" y="590.2" font-size="13.5" text-anchor="middle" transform="rotate(27 621 585.5)">5</text>
<text x="228.3" y="187.7" font-size="13.5" text-anchor="middle" transform="rotate(14 228.3 183)">6</text>
<text x="425.8" y="289.7" font-size="13.5" text-anchor="middle" transform="rotate(25 425.8 285)">6</text>
<text x="617.8" y="386.2" font-size="13.5" text-anchor="middle" transform="rotate(36 617.8 381.5)">6</text>
<text x="216" y="130" font-size="13.5" text-anchor="middle" transform="rotate(0 216 125.3)">7</text>
<text x="426.6" y="156" font-size="13.5" text-anchor="middle" transform="rotate(31 426.6 151.3)">7</text>
<text x="619.6" y="232.6" font-size="13.5" text-anchor="middle" transform="rotate(45 619.6 227.9)">7</text>
<text x="376.2" y="114.5" font-size="13.5" text-anchor="middle" transform="rotate(0 376.2 109.8)">8</text>
<text x="589.7" y="140.8" font-size="13.5" text-anchor="middle" transform="rotate(2 589.7 136.1)">8</text>
<text x="589.7" y="108.7" font-size="13.5" text-anchor="middle" transform="rotate(0 589.7 104)">9</text>
<path d="M841 640.5 L842.3 317.7 L842.9 289.5 L843.5 252.8 L844.3 233 L846.3 221.7 L847.7 204.7 L849.1 179.3 L851.4 162.4 L853.4 152.5 L855.4 149.1 L857.5 149 L859.6 150.5 L861 145 L862.7 139.2 L864 141 L865.5 148 L867.5 168 L869 199 L869 640.5 Z" fill="#000"/>
<g stroke="#000" stroke-width="2.3" fill="none">
<line x1="74.2" y1="50.65" x2="877" y2="50.65"/>
<line x1="74.2" y1="640.5" x2="877" y2="640.5"/>
<line x1="82.55" y1="49.6" x2="82.55" y2="641.6"/>
<line x1="869.2" y1="42.5" x2="869.2" y2="648.8"/>
</g>
<g stroke="#000" stroke-width="2.1" fill="none">
<line x1="813.7" y1="45.2" x2="813.7" y2="50"/>
<line x1="813.7" y1="641" x2="813.7" y2="646.6"/>
<line x1="758.1" y1="42.3" x2="758.1" y2="50"/>
<line x1="758.1" y1="641" x2="758.1" y2="648.8"/>
<line x1="702.6" y1="45.2" x2="702.6" y2="50"/>
<line x1="702.6" y1="641" x2="702.6" y2="646.6"/>
<line x1="647" y1="42.3" x2="647" y2="50"/>
<line x1="647" y1="641" x2="647" y2="648.8"/>
<line x1="591.5" y1="45.2" x2="591.5" y2="50"/>
<line x1="591.5" y1="641" x2="591.5" y2="646.6"/>
<line x1="535.9" y1="42.3" x2="535.9" y2="50"/>
<line x1="535.9" y1="641" x2="535.9" y2="648.8"/>
<line x1="480.4" y1="45.2" x2="480.4" y2="50"/>
<line x1="480.4" y1="641" x2="480.4" y2="646.6"/>
<line x1="424.8" y1="42.3" x2="424.8" y2="50"/>
<line x1="424.8" y1="641" x2="424.8" y2="648.8"/>
<line x1="369.3" y1="45.2" x2="369.3" y2="50"/>
<line x1="369.3" y1="641" x2="369.3" y2="646.6"/>
<line x1="313.7" y1="42.3" x2="313.7" y2="50"/>
<line x1="313.7" y1="641" x2="313.7" y2="648.8"/>
<line x1="258.2" y1="45.2" x2="258.2" y2="50"/>
<line x1="258.2" y1="641" x2="258.2" y2="646.6"/>
<line x1="202.6" y1="42.3" x2="202.6" y2="50"/>
<line x1="202.6" y1="641" x2="202.6" y2="648.8"/>
<line x1="147.1" y1="45.2" x2="147.1" y2="50"/>
<line x1="147.1" y1="641" x2="147.1" y2="646.6"/>
<line x1="91.5" y1="42.3" x2="91.5" y2="50"/>
<line x1="91.5" y1="641" x2="91.5" y2="648.8"/>
<line x1="77" y1="109.6" x2="82" y2="109.6"/>
<line x1="869.5" y1="109.6" x2="875.3" y2="109.6"/>
<line x1="74.2" y1="168.6" x2="82" y2="168.6"/>
<line x1="869.5" y1="168.6" x2="877.5" y2="168.6"/>
<line x1="77" y1="227.6" x2="82" y2="227.6"/>
<line x1="869.5" y1="227.6" x2="875.3" y2="227.6"/>
<line x1="74.2" y1="286.6" x2="82" y2="286.6"/>
<line x1="869.5" y1="286.6" x2="877.5" y2="286.6"/>
<line x1="77" y1="345.6" x2="82" y2="345.6"/>
<line x1="869.5" y1="345.6" x2="875.3" y2="345.6"/>
<line x1="74.2" y1="404.6" x2="82" y2="404.6"/>
<line x1="869.5" y1="404.6" x2="877.5" y2="404.6"/>
<line x1="77" y1="463.5" x2="82" y2="463.5"/>
<line x1="869.5" y1="463.5" x2="875.3" y2="463.5"/>
<line x1="74.2" y1="522.5" x2="82" y2="522.5"/>
<line x1="869.5" y1="522.5" x2="877.5" y2="522.5"/>
<line x1="77" y1="581.5" x2="82" y2="581.5"/>
<line x1="869.5" y1="581.5" x2="875.3" y2="581.5"/>
</g>
<path d="M78 30.2h9.2l-4.6 7zM103.8 30.2h9.2l-4.6 7zM130.9 30.2h9.2l-4.6 7zM170.1 30.2h9.2l-4.6 7zM209.7 30.2h9.2l-4.6 7zM250 30.2h9.2l-4.6 7zM289.9 30.2h9.2l-4.6 7zM330.7 30.2h9.2l-4.6 7zM370.8 30.2h9.2l-4.6 7zM410.9 30.2h9.2l-4.6 7zM450.5 30.2h9.2l-4.6 7zM490.6 30.2h9.2l-4.6 7zM531.5 30.2h9.2l-4.6 7zM571.8 30.2h9.2l-4.6 7zM612.3 30.2h9.2l-4.6 7zM652.5 30.2h9.2l-4.6 7zM672.6 30.2h9.2l-4.6 7zM693.6 30.2h9.2l-4.6 7zM713.7 30.2h9.2l-4.6 7zM734.7 30.2h9.2l-4.6 7zM754.8 30.2h9.2l-4.6 7zM774.9 30.2h9.2l-4.6 7zM795.8 30.2h9.2l-4.6 7zM815.9 30.2h9.2l-4.6 7zM829.9 30.2h9.2l-4.6 7zM843.9 30.2h9.2l-4.6 7zM864 30.2h9.2l-4.6 7z" fill="#000"/>
<text transform="translate(868.7 668.2) scale(1 1)" font-size="19.2" text-anchor="middle">0</text>
<text transform="translate(757.6 668.2) scale(1 1)" font-size="19.2" text-anchor="middle">200</text>
<text transform="translate(646.5 668.2) scale(1 1)" font-size="19.2" text-anchor="middle">400</text>
<text transform="translate(535.4 668.2) scale(1 1)" font-size="19.2" text-anchor="middle">600</text>
<text transform="translate(424.3 668.2) scale(1 1)" font-size="19.2" text-anchor="middle">800</text>
<text transform="translate(313.2 668.2) scale(1 1)" font-size="19.2" text-anchor="middle">1000</text>
<text transform="translate(202.1 668.2) scale(1 1)" font-size="19.2" text-anchor="middle">1200</text>
<text transform="translate(91 668.2) scale(1 1)" font-size="19.2" text-anchor="middle">1400</text>
<text transform="translate(72.8 57.4) scale(1 1)" font-size="19.2" text-anchor="end">0</text>
<text transform="translate(72.8 175.4) scale(1 1)" font-size="19.2" text-anchor="end">100</text>
<text transform="translate(72.8 293.4) scale(1 1)" font-size="19.2" text-anchor="end">200</text>
<text transform="translate(72.8 411.4) scale(1 1)" font-size="19.2" text-anchor="end">300</text>
<text transform="translate(72.8 529.3) scale(1 1)" font-size="19.2" text-anchor="end">400</text>
<text transform="translate(72.8 647.3) scale(1 1)" font-size="19.2" text-anchor="end">500</text>
<text transform="translate(475.8 23.9) scale(1 1)" font-size="25.0" text-anchor="middle">Temperature along Line-P - June 2010</text>
<text transform="translate(476 702.6) scale(1 1)" font-size="22.3" text-anchor="middle">Distance along Line-P (km)</text>
<text transform="translate(22.3 344) rotate(-90)" font-size="25.1" text-anchor="middle">Pressure (dbar)</text>
<text transform="translate(718.3 686.1) scale(1 1)" font-size="11.12" text-anchor="start">Last update: 9th July 2010</text>
</svg></body></html>
